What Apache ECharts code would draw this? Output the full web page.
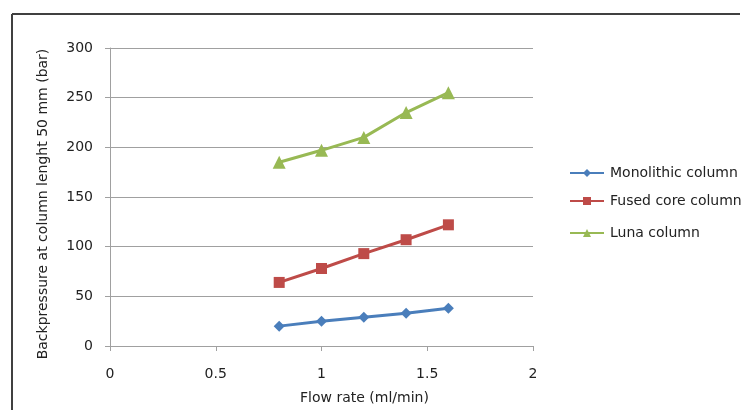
<!DOCTYPE html>
<html>
<head>
<meta charset="utf-8">
<script src="https://cdn.jsdelivr.net/npm/echarts@6/dist/echarts.min.js"></script>
<style>html,body{margin:0;padding:0;background:#fff}#c{width:750px;height:410px}</style>
</head>
<body>
<div id="c"></div>
<script>
const flowRates = [0.8, 1.0, 1.2, 1.4, 1.6];
const monolithic = [20, 25, 29, 33, 38];
const fusedCore = [64, 78, 93, 107, 122];
const luna = [185, 197, 210, 235, 255];
const seriesNames = ['Monolithic column', 'Fused core column', 'Luna column'];
const xTicks = [0, 0.5, 1, 1.5, 2];
const yTicks = [0, 50, 100, 150, 200, 250, 300];

const colors = ['#4a7ebb', '#be4b48', '#98b954'];
const symbols = ['diamond', 'rect', 'triangle'];
const symbolSizes = [11, 11, 13];
const allData = [monolithic, fusedCore, luna];
const font = 'DejaVu Sans, Verdana, sans-serif';
const txt = '#222';

const chart = echarts.init(document.getElementById('c'));
const legendTops = [166, 194, 226];
chart.setOption({
  animation: false,
  backgroundColor: '#fff',
  grid: { left: 110, right: 217, top: 48, bottom: 64 },
  legend: seriesNames.map((n, i) => ({
    data: [n], orient: 'vertical', left: 569, top: legendTops[i], padding: 0,
    itemWidth: 34, itemHeight: 10, itemGap: 6,
    textStyle: { fontFamily: font, fontSize: 14, color: txt, padding: [0, 0, 0, 1] }
  })),
  xAxis: {
    type: 'value', min: xTicks[0], max: xTicks[xTicks.length - 1], interval: 0.5,
    name: 'Flow rate (ml/min)', nameLocation: 'middle', nameGap: 45,
    nameTextStyle: { fontFamily: font, fontSize: 14, color: txt, padding: [0, 0, 0, 86] },
    axisLine: { lineStyle: { color: '#a0a0a0', width: 1 } },
    axisTick: { show: true, length: 5, lineStyle: { color: '#a0a0a0' } },
    axisLabel: { margin: 21, fontFamily: font, fontSize: 14, color: txt, formatter: v => String(v) },
    splitLine: { show: false }
  },
  yAxis: {
    type: 'value', min: yTicks[0], max: yTicks[yTicks.length - 1], interval: 50,
    name: 'Backpressure at column lenght 50 mm (bar)', nameLocation: 'middle', nameGap: 60,
    nameTextStyle: { fontFamily: font, fontSize: 14, color: txt, padding: [0, 14, 0, 0] },
    axisLine: { show: true, lineStyle: { color: '#a0a0a0', width: 1 } },
    axisTick: { show: true, length: 5, lineStyle: { color: '#a0a0a0' } },
    axisLabel: { margin: 17, fontFamily: font, fontSize: 14, color: txt },
    splitLine: { lineStyle: { color: '#a0a0a0', width: 1 } }
  },
  series: seriesNames.map((n, i) => ({
    name: n, type: 'line',
    data: flowRates.map((x, j) => [x, allData[i][j]]),
    symbol: symbols[i], symbolSize: symbolSizes[i],
    lineStyle: { color: colors[i], width: 3 },
    itemStyle: { color: colors[i] }
  })),
  graphic: [
    { type: 'line', shape: { x1: 12, y1: 14, x2: 740, y2: 14 }, style: { stroke: '#404040', lineWidth: 2 } },
    { type: 'line', shape: { x1: 12, y1: 14, x2: 12, y2: 410 }, style: { stroke: '#404040', lineWidth: 2 } }
  ]
});
</script>
</body>
</html>
